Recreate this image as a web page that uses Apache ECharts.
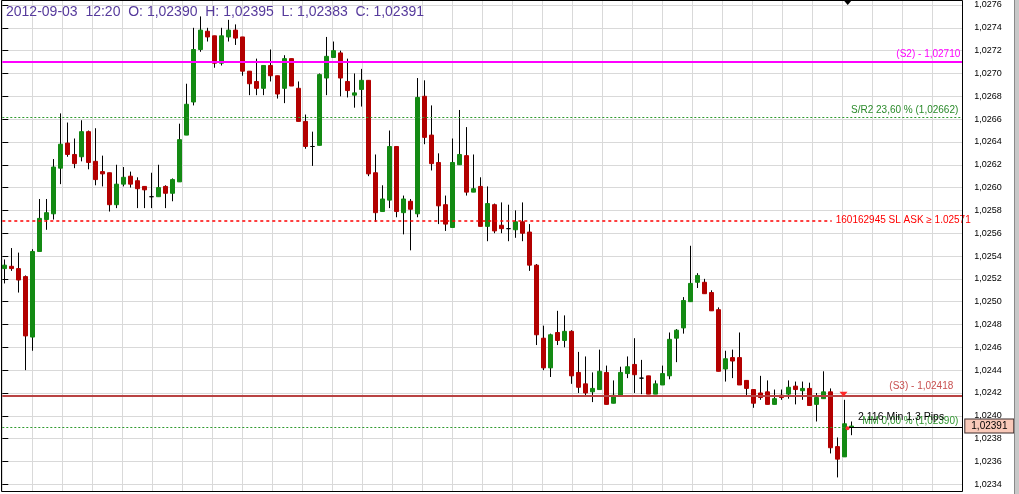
<!DOCTYPE html>
<html><head><meta charset="utf-8">
<script src="https://cdn.jsdelivr.net/npm/echarts@6/dist/echarts.min.js"></script>
<style>html,body{margin:0;padding:0;background:#fff;}#c{width:1019px;height:494px;}</style>
</head><body><div id="c"></div>
<script>
// ---------- data ----------
const chartDate = "2012-09-03";
const times = ("02:15 02:20 02:25 02:30 02:35 02:40 02:45 02:50 02:55 " +
 "03:00 03:05 03:10 03:15 03:20 03:25 03:30 03:35 03:40 03:45 03:50 03:55 " +
 "04:00 04:05 04:10 04:15 04:20 04:25 04:30 04:35 04:40 04:45 04:50 04:55 " +
 "05:00 05:05 05:10 05:15 05:20 05:25 05:30 05:35 05:40 05:45 05:50 05:55 " +
 "06:00 06:05 06:10 06:15 06:20 06:25 06:30 06:35 06:40 06:45 06:50 06:55 " +
 "07:00 07:05 07:10 07:15 07:20 07:25 07:30 07:35 07:40 07:45 07:50 07:55 " +
 "08:00 08:05 08:10 08:15 08:20 08:25 08:30 08:35 08:40 08:45 08:50 08:55 " +
 "09:00 09:05 09:10 09:15 09:20 09:25 09:30 09:35 09:40 09:45 09:50 09:55 " +
 "10:00 10:05 10:10 10:15 10:20 10:25 10:30 10:35 10:40 10:45 10:50 10:55 " +
 "11:00 11:05 11:10 11:15 11:20 11:25 11:30 11:35 11:40 11:45 11:50 11:55 " +
 "12:00 12:05 12:10 12:15 12:20").split(" ");

const opens = [1.02529,1.02531,1.02529,1.02522,1.02469,1.02544,1.02572,1.02577,1.02617,1.02639,
1.02629,1.02627,1.02649,1.02623,1.02614,1.02613,1.02585,1.02603,1.02610,1.02606,
1.02601,1.02592,1.02592,1.02601,1.02595,1.02605,1.02646,1.02675,1.02721,1.02737,
1.02733,1.02709,1.02732,1.02738,1.02732,1.02702,1.02693,1.02687,1.02707,1.02698,
1.02687,1.02713,1.02687,1.02658,1.02636,1.02637,1.02696,1.02714,1.02718,1.02693,
1.02681,1.02686,1.02694,1.02613,1.02579,1.02589,1.02636,1.02578,1.02588,1.02577,
1.02680,1.02646,1.02622,1.02585,1.02565,1.02620,1.02628,1.02596,1.02601,1.02566,
1.02585,1.02567,1.02564,1.02563,1.02570,1.02561,1.02532,1.02468,1.02442,1.02473,
1.02466,1.02474,1.02438,1.02428,1.02421,1.02423,1.02438,1.02411,1.02417,1.02437,
1.02445,1.02433,1.02435,1.02419,1.02427,1.02435,1.02468,1.02477,1.02500,1.02517,
1.02517,1.02508,1.02493,1.02441,1.02451,1.02451,1.02431,1.02423,1.02420,1.02421,
1.02410,1.02418,1.02419,1.02426,1.02422,1.02424,1.02410,1.02415,1.02421,1.02373,
1.02364,1.02390];

const highs = [1.02537,1.02547,1.02543,1.02523,1.02546,1.02590,1.02590,1.02625,1.02665,1.02657,
1.02643,1.02659,1.02650,1.02652,1.02628,1.02613,1.02620,1.02618,1.02614,1.02609,
1.02601,1.02613,1.02620,1.02602,1.02608,1.02656,1.02691,1.02740,1.02750,1.02740,
1.02733,1.02740,1.02747,1.02743,1.02732,1.02702,1.02713,1.02707,1.02721,1.02698,
1.02716,1.02713,1.02693,1.02664,1.02649,1.02700,1.02732,1.02728,1.02720,1.02713,
1.02700,1.02704,1.02694,1.02629,1.02602,1.02650,1.02636,1.02593,1.02590,1.02696,
1.02694,1.02672,1.02630,1.02593,1.02643,1.02668,1.02653,1.02629,1.02609,1.02601,
1.02586,1.02587,1.02585,1.02580,1.02587,1.02568,1.02533,1.02479,1.02472,1.02492,
1.02488,1.02475,1.02456,1.02452,1.02438,1.02458,1.02444,1.02431,1.02443,1.02452,
1.02468,1.02449,1.02435,1.02431,1.02444,1.02473,1.02476,1.02504,1.02549,1.02525,
1.02520,1.02510,1.02495,1.02457,1.02458,1.02473,1.02431,1.02423,1.02435,1.02431,
1.02423,1.02423,1.02431,1.02430,1.02430,1.02429,1.02420,1.02439,1.02424,1.02381,
1.02414,1.02395];

const lows = [1.02516,1.02527,1.02508,1.02440,1.02457,1.02544,1.02563,1.02572,1.02603,1.02627,
1.02617,1.02623,1.02616,1.02602,1.02601,1.02579,1.02582,1.02601,1.02600,1.02582,
1.02582,1.02582,1.02592,1.02582,1.02588,1.02605,1.02646,1.02672,1.02719,1.02728,
1.02705,1.02707,1.02728,1.02725,1.02698,1.02681,1.02681,1.02681,1.02693,1.02678,
1.02674,1.02689,1.02658,1.02634,1.02619,1.02637,1.02681,1.02714,1.02680,1.02679,
1.02670,1.02671,1.02610,1.02570,1.02579,1.02582,1.02574,1.02559,1.02545,1.02574,
1.02638,1.02615,1.02568,1.02562,1.02565,1.02620,1.02593,1.02596,1.02566,1.02553,
1.02560,1.02560,1.02553,1.02556,1.02553,1.02527,1.02462,1.02440,1.02434,1.02462,
1.02460,1.02428,1.02420,1.02417,1.02412,1.02423,1.02410,1.02411,1.02417,1.02433,
1.02420,1.02419,1.02419,1.02419,1.02427,1.02432,1.02447,1.02472,1.02500,1.02512,
1.02507,1.02492,1.02439,1.02430,1.02433,1.02427,1.02417,1.02407,1.02414,1.02410,
1.02410,1.02414,1.02415,1.02410,1.02414,1.02409,1.02395,1.02415,1.02367,1.02346,
1.02364,1.02383];

const closes = [1.02532,1.02529,1.02519,1.02470,1.02544,1.02573,1.02578,1.02618,1.02638,1.02629,
1.02621,1.02649,1.02622,1.02607,1.02612,1.02585,1.02603,1.02609,1.02603,1.02599,
1.02598,1.02592,1.02600,1.02595,1.02607,1.02642,1.02673,1.02721,1.02738,1.02732,
1.02709,1.02733,1.02738,1.02731,1.02702,1.02691,1.02687,1.02707,1.02698,1.02682,
1.02713,1.02689,1.02658,1.02636,1.02636,1.02699,1.02715,1.02720,1.02696,1.02685,
1.02683,1.02694,1.02612,1.02578,1.02590,1.02636,1.02579,1.02590,1.02581,1.02679,
1.02644,1.02621,1.02584,1.02568,1.02622,1.02629,1.02596,1.02599,1.02566,1.02586,
1.02562,1.02564,1.02564,1.02570,1.02560,1.02532,1.02471,1.02442,1.02471,1.02466,
1.02474,1.02435,1.02425,1.02420,1.02424,1.02439,1.02410,1.02418,1.02438,1.02443,
1.02436,1.02433,1.02419,1.02428,1.02437,1.02467,1.02475,1.02501,1.02516,1.02523,
1.02507,1.02492,1.02439,1.02450,1.02448,1.02427,1.02424,1.02411,1.02416,1.02410,
1.02415,1.02416,1.02425,1.02423,1.02424,1.02409,1.02416,1.02421,1.02372,1.02362,
1.02393,1.02391];

// price axis ticks
const yMin = 1.0232, yMax = 1.0278, yStep = 0.0002;

// horizontal levels
const levelS2 = 1.02710, levelSR2 = 1.02662, levelSL = 1.02571, levelS3 = 1.02418, levelMM = 1.02390;
const lastPrice = 1.02391;
const labelS2 = "(S2) - 1,02710";
const labelSR2 = "S/R2 23,60 % (1,02662)";
const labelSL = "160162945 SL ASK \u2265 1.02571";
const labelS3 = "(S3) - 1,02418";
const labelMM = "MM 0,00 % (1,02390)";
const labelTimer = "2.116 Min 1.3 Pips";

// ---------- build ----------
const fmt = v => v.toFixed(5).replace('.', ',');
const n = opens.length;
const xCats = times.concat(Array(138 - n).fill(''));
const wickData = opens.map((o, i) => [o, closes[i], lows[i], highs[i]]);
const bodyData = opens.map((o, i) => [o, closes[i], Math.min(o, closes[i]), Math.max(o, closes[i])]);
const titleText = chartDate + "  " + times[n-1] + "  O: " + fmt(opens[n-1]) + "  H: " + fmt(highs[n-1]) +
  "  L: " + fmt(lows[n-1]) + "  C: " + fmt(closes[n-1]);

const FONT = "'Liberation Sans', Arial, sans-serif";
const GTOP = -17.82, GH = 524.9;
const GREEN = '#138a13', RED = '#b30000';

const chart = echarts.init(document.getElementById('c'), null, {renderer: 'canvas'});
chart.setOption({
  animation: false,
  backgroundColor: '#ffffff',
  textStyle: {fontFamily: FONT},
  title: {text: titleText, left: 6, top: 5, padding: 0,
    textStyle: {fontSize: 14, fontWeight: 'normal', color: '#563a9c', fontFamily: FONT}},
  grid: [
    {left: 2.3, width: 960, top: GTOP, height: GH, containLabel: false, outerBoundsMode: 'none'},
    {left: 1, width: 966, top: GTOP, height: GH, containLabel: false, outerBoundsMode: 'none'}
  ],
  xAxis: [
    {type: 'value', gridIndex: 0, min: 0, max: 960, interval: 30,
     axisLine: {show: false}, axisTick: {show: false}, axisLabel: {show: false},
     splitLine: {show: true, lineStyle: {color: '#d9d9d9', width: 1}}},
    {type: 'category', gridIndex: 1, data: xCats, boundaryGap: true,
     axisLine: {show: false}, axisTick: {show: false}, axisLabel: {show: false}, splitLine: {show: false}}
  ],
  yAxis: [
    {type: 'value', gridIndex: 0, position: 'right', min: yMin, max: yMax, interval: yStep,
     axisLine: {show: false},
     axisTick: {show: true, length: 6, lineStyle: {color: '#000'}},
     axisLabel: {show: true, margin: 12, fontSize: 9, color: '#000', fontFamily: FONT,
       showMinLabel: false, showMaxLabel: false,
       formatter: v => v.toFixed(4).replace('.', ',')},
     splitLine: {show: true, lineStyle: {color: '#d9d9d9', width: 1}}},
    {type: 'value', gridIndex: 1, min: yMin, max: yMax, interval: yStep, show: false,
     splitLine: {show: false}}
  ],
  series: [
    {
      name: 'wick', type: 'candlestick', xAxisIndex: 1, yAxisIndex: 1, z: 2,
      barWidth: 1, data: wickData, silent: true,
      itemStyle: {color: '#000', color0: '#000', borderColor: '#000', borderColor0: '#000',
        borderColorDoji: '#000', borderWidth: 1}
    },
    {
      name: 'body', type: 'candlestick', xAxisIndex: 1, yAxisIndex: 1, z: 3,
      barWidth: 4, data: bodyData, silent: true,
      itemStyle: {color: GREEN, color0: RED, borderColor: GREEN, borderColor0: RED,
        borderColorDoji: '#000', borderWidth: 1},
      markPoint: {
        silent: true, label: {show: false},
        data: [
          {coord: [times[120], levelS3], symbol: 'triangle', symbolRotate: 180, symbolSize: [8, 5],
           symbolOffset: [-1, -1], itemStyle: {color: '#ff2a2a'}},
          {coord: [times[120], levelMM], symbol: 'circle', symbolSize: 4,
           symbolOffset: [3, 1], itemStyle: {color: '#ff2a2a'}}
        ]
      }
    },
    {
      name: 'levels', type: 'line', xAxisIndex: 0, yAxisIndex: 0, data: [], z: 5,
      markLine: {
        silent: true, symbol: ['none', 'none'], animation: false,
        data: [
          [{coord: [0, levelS2], lineStyle: {color: '#ff00ff', width: 2, type: 'solid'},
            label: {show: true, formatter: labelS2, position: 'insideEndTop', distance: [2, 3],
              color: '#ff00ff', fontSize: 10, fontFamily: FONT}},
           {coord: [960, levelS2]}],
          [{coord: [0, levelSR2], lineStyle: {color: '#2f9a2f', width: 1, type: [2, 2]},
            label: {show: true, formatter: labelSR2, position: 'insideEndTop', distance: [4, 2],
              color: '#2a8a2a', fontSize: 10, fontFamily: FONT}},
           {coord: [960, levelSR2]}],
          [{coord: [0, levelSL], lineStyle: {color: '#ff0000', width: 1.5, type: [3, 3]},
            label: {show: true, formatter: labelSL, position: 'end', distance: 4,
              color: '#ff0000', fontSize: 10, fontFamily: FONT}},
           {coord: [829.4, levelSL]}],
          [{coord: [0, levelS3], lineStyle: {color: '#b94343', width: 2, type: 'solid'},
            label: {show: true, formatter: labelS3, position: 'insideEndTop', distance: [9, 4],
              color: '#c85050', fontSize: 10, fontFamily: FONT}},
           {coord: [960, levelS3]}],
          [{coord: [0, levelMM], lineStyle: {color: '#2f9a2f', width: 1, type: [2, 2]},
            label: {show: true, formatter: labelMM, position: 'insideEndTop', distance: [4, 1],
              color: '#2f962f', fontSize: 10, fontFamily: FONT}},
           {coord: [960, levelMM]}],
          [{coord: [845.7, levelMM], lineStyle: {color: '#000', width: 1, type: 'solid'},
            label: {show: true, formatter: labelTimer, position: 'insideStartTop', distance: [10, 5],
              color: '#000', fontSize: 10.5, fontFamily: FONT}},
           {coord: [960, levelMM]}],
          [{coord: [0, lastPrice], lineStyle: {color: 'rgba(0,0,0,0)', width: 1},
            label: {show: true, formatter: fmt(lastPrice), position: 'end', distance: 3,
              color: '#000', fontSize: 10, fontFamily: FONT, backgroundColor: '#f9c9b9',
              borderColor: '#3a2a2a', borderWidth: 1, padding: [2, 6, 1, 6], width: 36, align: 'left'}},
           {coord: [960, lastPrice]}]
        ]
      }
    }
  ],
  graphic: [
    {type: 'rect', z: 50, silent: true, shape: {x: 0, y: 492, width: 964, height: 3},
     style: {fill: '#ffffff'}},
    {type: 'rect', z: 51, silent: true, shape: {x: 1.5, y: 0.5, width: 961, height: 491},
     style: {fill: 'none', stroke: '#000', lineWidth: 1}},
    {type: 'polygon', z: 52, silent: true, shape: {points: [[843.5, 0], [852, 0], [847.7, 5]]},
     style: {fill: '#000'}},
    {type: 'rect', z: 52, silent: true, shape: {x: 1014, y: 0, width: 5, height: 494},
     style: {fill: '#c8c8c8'}},
    {type: 'line', z: 53, silent: true, shape: {x1: 1014.5, y1: 0, x2: 1014.5, y2: 494},
     style: {stroke: '#8a8a8a', lineWidth: 1}}
  ]
});
</script>
</body></html>
